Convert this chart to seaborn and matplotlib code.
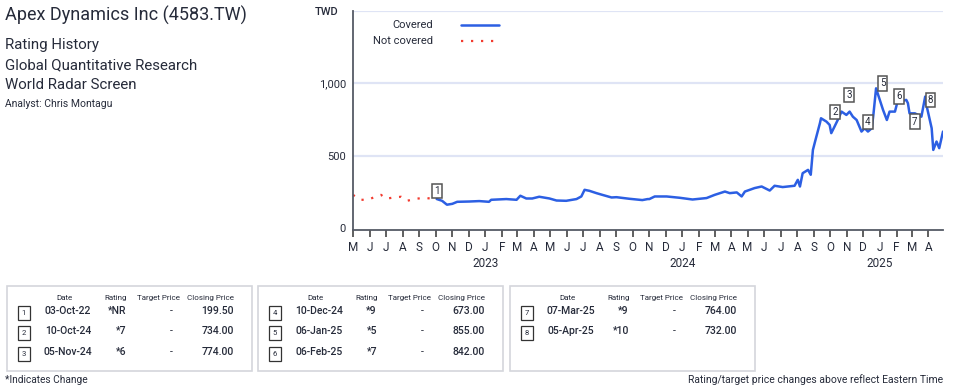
import numpy as np
import pandas as pd
import matplotlib.pyplot as plt
import matplotlib.dates as mdates
from matplotlib.lines import Line2D
from matplotlib.patches import Rectangle
import seaborn as sns

# not covered period (before coverage started)
nc_dates = ['2022-05-01', '2022-05-14', '2022-05-29', '2022-06-11', '2022-06-22', '2022-07-01',
            '2022-07-12', '2022-07-29', '2022-08-09', '2022-08-26', '2022-09-10', '2022-09-25',
            '2022-10-03']
nc_price = [228, 194, 194, 215, 228, 201, 208, 215, 187, 201, 208, 201, 199.5]

# covered period
cv_dates = ['2022-10-03', '2022-10-13', '2022-10-22', '2022-11-01', '2022-11-10', '2022-12-02',
            '2022-12-21', '2023-01-08', '2023-01-12', '2023-02-09', '2023-02-28', '2023-03-07',
            '2023-03-18', '2023-03-29', '2023-04-11', '2023-04-30', '2023-05-13', '2023-05-31',
            '2023-06-19', '2023-06-28', '2023-07-04', '2023-07-13', '2023-07-26', '2023-08-06',
            '2023-08-23', '2023-09-01', '2023-09-25', '2023-10-19', '2023-10-29', '2023-11-01',
            '2023-11-11', '2023-12-03', '2023-12-27', '2024-01-20', '2024-02-15', '2024-03-01',
            '2024-03-20', '2024-03-29', '2024-04-11', '2024-04-20', '2024-04-26', '2024-05-14',
            '2024-05-27', '2024-06-11', '2024-06-20', '2024-07-05', '2024-07-27', '2024-08-02',
            '2024-08-06', '2024-08-11', '2024-08-21', '2024-08-26', '2024-08-30', '2024-09-03',
            '2024-09-12', '2024-09-14', '2024-09-24', '2024-09-30', '2024-10-03', '2024-10-09',
            '2024-10-15', '2024-10-22', '2024-10-31', '2024-11-06', '2024-11-12', '2024-11-19',
            '2024-11-28', '2024-12-04', '2024-12-10', '2024-12-17', '2024-12-20', '2024-12-25',
            '2025-01-01', '2025-01-07', '2025-01-14', '2025-01-19', '2025-01-29', '2025-02-02',
            '2025-02-07', '2025-02-19', '2025-02-22', '2025-02-25', '2025-03-07', '2025-03-19',
            '2025-03-26', '2025-03-29', '2025-04-07', '2025-04-10', '2025-04-16', '2025-04-21',
            '2025-04-28']
cv_price = [199.5, 187, 160, 166, 180, 182, 185, 180, 194, 199, 194, 222,
            203, 203, 215, 203, 189, 187, 199, 217, 263, 256, 240, 228,
            210, 212, 201, 192, 199, 199, 217, 217, 208, 196, 206, 228,
            251, 240, 245, 217, 251, 275, 286, 258, 291, 282, 291, 332,
            286, 378, 401, 367, 539, 597,
            724, 758, 735, 712, 655, 700,
            746, 804, 781, 804, 769, 746,
            666, 689, 666, 689, 781, 965,
            884, 815, 746, 804, 804, 862,
            873, 885, 862, 792, 792, 769,
            908, 838, 689, 539, 597, 551,
            666]

# rating history table
tbl_dates = ['03-Oct-22', '10-Oct-24', '05-Nov-24', '10-Dec-24', '06-Jan-25', '06-Feb-25',
             '07-Mar-25', '05-Apr-25']
tbl_ratings = ['*NR', '*7', '*6', '*9', '*5', '*7', '*9', '*10']
tbl_targets = ['-', '-', '-', '-', '-', '-', '-', '-']
tbl_closes = [199.50, 734.00, 774.00, 673.00, 855.00, 842.00, 764.00, 732.00]

years = [2023, 2024, 2025]

W, H = 954, 386
BLUE = '#2c5fe3'
RED = '#f23b2f'
TXT = '#262b3a'

sns.set_style('white')
plt.rcParams['font.family'] = ['Roboto', 'DejaVu Sans']

fig = plt.figure(figsize=(W / 100, H / 100), dpi=100)


def fx(x):
    return x / W


def fy(y):
    return 1 - y / H


ax = fig.add_axes([fx(353), fy(230), fx(943) - fx(353), fy(11) - fy(230)])

nc = pd.DataFrame({'date': pd.to_datetime(nc_dates), 'price': nc_price})
cv = pd.DataFrame({'date': pd.to_datetime(cv_dates), 'price': cv_price})
sns.lineplot(nc, x='date', y='price', color=RED, linewidth=1.6, linestyle=(0, (1, 3.5)), ax=ax)
sns.lineplot(cv, x='date', y='price', color=BLUE, linewidth=1.8, ax=ax)

ax.set_xlim(pd.Timestamp('2022-05-01'), pd.Timestamp('2025-04-28'))
ax.set_ylim(-15, 1500)
ax.set_xlabel('')
ax.set_ylabel('')

ax.set_yticks([0, 500, 1000, 1500])
ax.set_yticklabels(['0', '500', '1,000', ''])
ax.grid(axis='y', color='#dfe4f5', linewidth=1.6)
ax.grid(axis='x', visible=False)
ax.yaxis.get_gridlines()[0].set_visible(False)
ax.tick_params(axis='y', length=0, pad=5, labelsize=8, labelcolor=TXT)

ax.xaxis.set_major_locator(mdates.MonthLocator())
ax.xaxis.set_major_formatter(mdates.DateFormatter('%b'))
ax.tick_params(axis='x', length=5, width=1.2, color='#444', pad=3, labelsize=8.5, labelcolor=TXT,
               bottom=True)
fig.canvas.draw()
ax.set_xticklabels([t.get_text()[:1] for t in ax.get_xticklabels()])

for s in ['top', 'right']:
    ax.spines[s].set_visible(False)
for s in ['left', 'bottom']:
    ax.spines[s].set_color('#555a66')
    ax.spines[s].set_linewidth(1.3)

for yr in years:
    ax.text(pd.Timestamp(f'{yr}-01-01'), -0.155, str(yr), transform=ax.get_xaxis_transform(),
            ha='center', va='center', fontsize=8.5, color=TXT)

fig.text(fx(339), fy(12), 'TWD', ha='right', va='center', fontsize=8, color=TXT, fontweight='medium')

# numbered markers on the chart
box_offsets = [6, 7, 15, 6, 15, 7, -3, 16]
for i, (d, c) in enumerate(zip(tbl_dates, tbl_closes)):
    ax.annotate(str(i + 1), xy=(pd.to_datetime(d, format='%d-%b-%y'), c), xytext=(0, box_offsets[i]),
                textcoords='offset points', ha='center', va='center', fontsize=7, color=TXT,
                bbox=dict(boxstyle='square,pad=0.22', fc='white', ec='#555', lw=1.1), zorder=5)

# legend
fig.text(fx(433), fy(25), 'Covered', ha='right', va='center', fontsize=8, color=TXT)
fig.text(fx(433), fy(41), 'Not covered', ha='right', va='center', fontsize=8, color=TXT)
fig.add_artist(Line2D([fx(461), fx(499)], [fy(25), fy(25)], color=BLUE, lw=1.8))
fig.add_artist(Line2D([fx(461), fx(499)], [fy(41), fy(41)], color=RED, lw=1.6, ls=(0, (1, 3.5))))

# header texts
fig.text(fx(5), fy(15), 'Apex Dynamics Inc (4583.TW)', ha='left', va='center', fontsize=13, color=TXT)
fig.text(fx(5), fy(45), 'Rating History', ha='left', va='center', fontsize=10.8, color=TXT)
fig.text(fx(5), fy(65), 'Global Quantitative Research', ha='left', va='center', fontsize=10.8, color=TXT)
fig.text(fx(5), fy(85), 'World Radar Screen', ha='left', va='center', fontsize=10.8, color=TXT)
fig.text(fx(5), fy(104), 'Analyst: Chris Montagu', ha='left', va='center', fontsize=7.5, color=TXT)

# tables
box_lefts = [7, 258, 510]
row_ys = [311, 331, 352]
for b, bl in enumerate(box_lefts):
    fig.add_artist(Rectangle((fx(bl), fy(371)), fx(245), 85 / H, fill=False, ec='#d4d6dc', lw=1.2))
    fig.text(fx(bl + 58), fy(298), 'Date', ha='center', va='center', fontsize=5.8, color=TXT)
    fig.text(fx(bl + 120), fy(298), 'Rating', ha='right', va='center', fontsize=5.8, color=TXT)
    fig.text(fx(bl + 152), fy(298), 'Target Price', ha='center', va='center', fontsize=5.8, color=TXT)
    fig.text(fx(bl + 227), fy(298), 'Closing Price', ha='right', va='center', fontsize=5.8, color=TXT)
    for r in range(3):
        i = b * 3 + r
        if i >= len(tbl_dates):
            break
        y = fy(row_ys[r])
        fig.text(fx(bl + 17), fy(row_ys[r] + 2), str(i + 1), ha='center', va='center', fontsize=5.5,
                 color=TXT, bbox=dict(boxstyle='square,pad=0.55', fc='white', ec='#333', lw=0.9))
        fig.text(fx(bl + 61), y, tbl_dates[i], ha='center', va='center', fontsize=7.5, color=TXT,
                 fontweight='medium')
        fig.text(fx(bl + 119), y, tbl_ratings[i], ha='right', va='center', fontsize=7.5, color=TXT,
                 fontweight='medium')
        fig.text(fx(bl + 164), y, tbl_targets[i], ha='center', va='center', fontsize=7.5, color=TXT)
        fig.text(fx(bl + 227), y, f'{tbl_closes[i]:.2f}', ha='right', va='center', fontsize=7.5,
                 color=TXT, fontweight='medium')

fig.text(fx(5), fy(380), '*Indicates Change', ha='left', va='center', fontsize=7.3, color=TXT)
fig.text(fx(943), fy(380), 'Rating/target price changes above reflect Eastern Time', ha='right',
         va='center', fontsize=7.5, color=TXT)

fig.savefig('out.png', dpi=100)
